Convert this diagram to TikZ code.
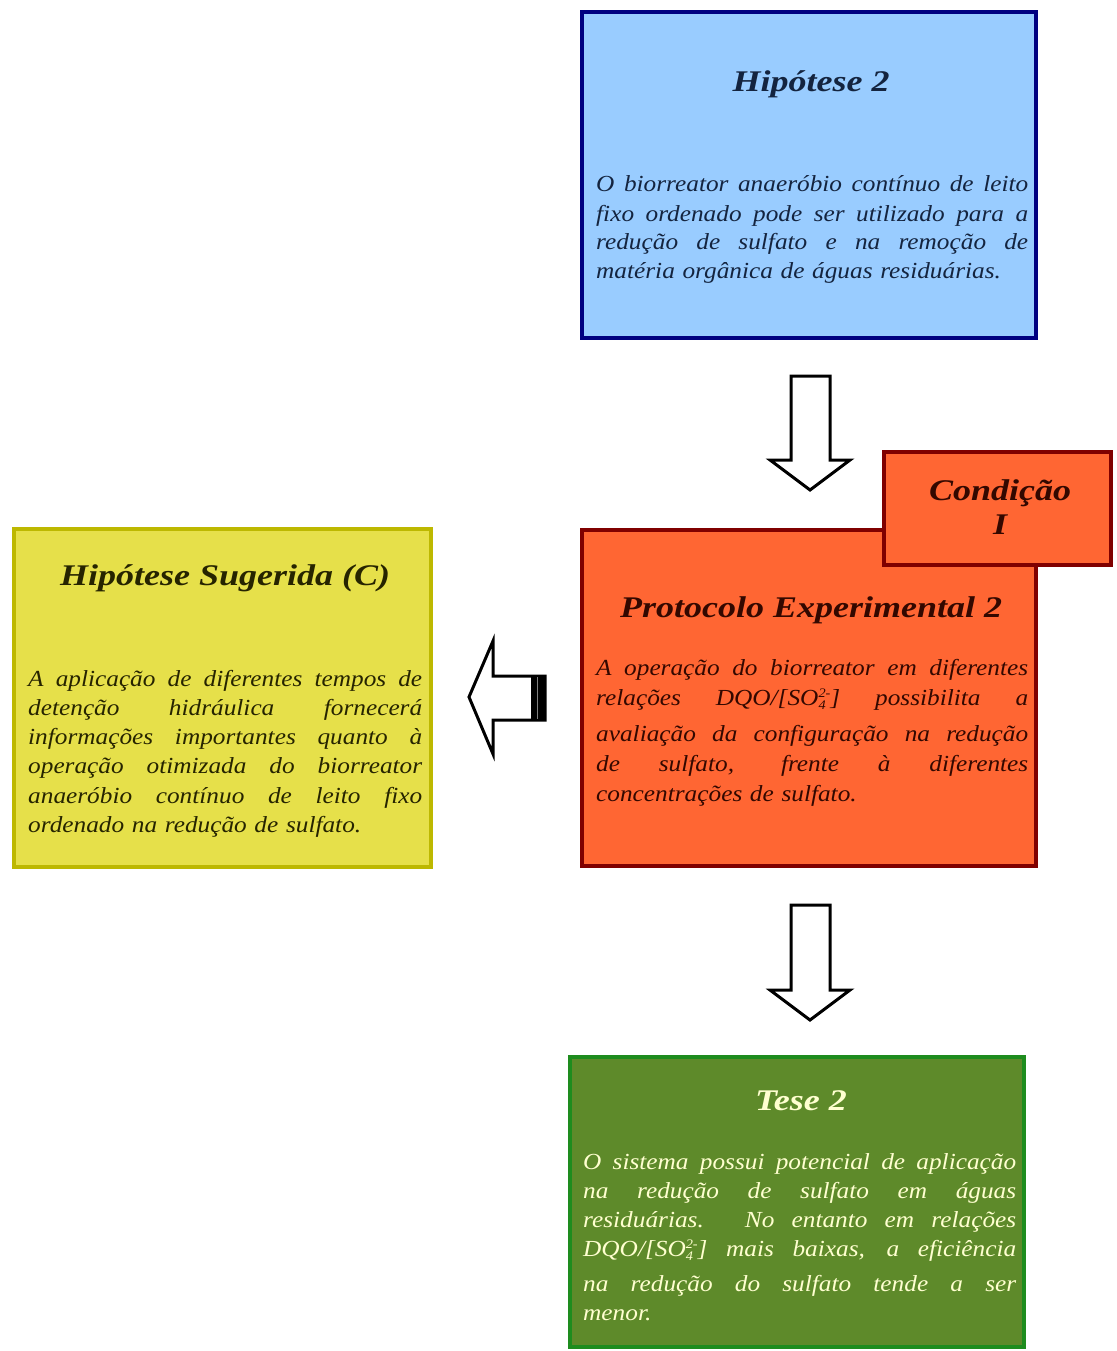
\documentclass[tikz,border=0pt]{standalone}
\usepackage{fontspec}
\setmainfont{Liberation Serif}
\newfontfamily\bodyfont[FakeStretch=1.1]{Liberation Serif}
\newfontfamily\headfont[FakeStretch=1.2]{Liberation Serif}
\usetikzlibrary{calc}

\definecolor{hipfill}{HTML}{99CCFF}
\definecolor{hipline}{HTML}{000080}
\definecolor{hiptext}{HTML}{14243F}
\definecolor{protfill}{HTML}{FF6633}
\definecolor{protline}{HTML}{800000}
\definecolor{prottext}{HTML}{330800}
\definecolor{sugfill}{HTML}{E6E04A}
\definecolor{sugline}{HTML}{BDB800}
\definecolor{sugtext}{HTML}{262400}
\definecolor{tesefill}{HTML}{5E8A2A}
\definecolor{teseline}{HTML}{1E8C1E}
\definecolor{tesetext}{HTML}{FFFFD0}

% one justified line of body text (spaces stretch to the full width)
\newcommand{\jl}[1]{{\spaceskip=0pt\xspaceskip=0pt\makebox[\linewidth][s]{#1}}}
% COD/sulfate ratio with stacked charge and index
\newcommand{\sulfate}{DQO/[SO\raisebox{-4pt}{\fontsize{13}{12}\selectfont\shortstack[l]{2-\\4}}]}

\tikzset{
  box/.style={draw, line width=4pt, rectangle, inner sep=0pt},
  title/.style={font=\headfont\bfseries\itshape\fontsize{30}{34}\selectfont, anchor=base, inner sep=0pt},
  body/.style={font=\bodyfont\itshape\fontsize{23}{29}\selectfont, text width=432pt, align=left, anchor=base west, inner sep=0pt},
  blockarrow/.style={draw=black, fill=white, line width=3pt, line join=miter},
}

\begin{document}
\begin{tikzpicture}[x=1pt, y=-1pt]
\useasboundingbox (0,0) rectangle (1116,1351);

% boxes
\node[box, draw=hipline, fill=hipfill, minimum width=454pt, minimum height=326pt] (hip) at (809,175) {};
\node[box, draw=protline, fill=protfill, minimum width=454pt, minimum height=336pt] (prot) at (809,698) {};
\node[box, draw=protline, fill=protfill, minimum width=227pt, minimum height=113pt] (cond) at (997.5,508.5) {};
\node[box, draw=sugline, fill=sugfill, minimum width=417pt, minimum height=338pt] (sug) at (222.5,698) {};
\node[box, draw=teseline, fill=tesefill, minimum width=454pt, minimum height=290pt] (tese) at (797,1202) {};

% block arrows between the boxes
\draw[blockarrow] ($(hip.south)+(-18,36)$) -- ($(hip.south)+(21,36)$) -- ($(hip.south)+(21,120)$)
  -- ($(hip.south)+(41,120)$) -- ($(hip.south)+(1,150)$) -- ($(hip.south)+(-39,120)$)
  -- ($(hip.south)+(-18,120)$) -- cycle;
\draw[blockarrow] ($(prot.south)+(-18,37)$) -- ($(prot.south)+(21,37)$) -- ($(prot.south)+(21,122)$)
  -- ($(prot.south)+(41,122)$) -- ($(prot.south)+(1,152)$) -- ($(prot.south)+(-39,122)$)
  -- ($(prot.south)+(-18,122)$) -- cycle;
\draw[blockarrow] ($(prot.west)+(-35,-22)$) -- ($(prot.west)+(-87,-22)$) -- ($(prot.west)+(-87,-57)$)
  -- ($(prot.west)+(-111,-1)$) -- ($(prot.west)+(-87,56)$) -- ($(prot.west)+(-87,22)$)
  -- ($(prot.west)+(-35,22)$) -- cycle;
\fill[black] ($(prot.west)+(-49,-22)$) rectangle ($(prot.west)+(-35,22)$);
\draw[gray, line width=1pt] ($(prot.west)+(-43,-21)$) -- ($(prot.west)+(-43,21)$);

% titles
\node[title, text=hiptext] (hipT) at (811,92) {Hipótese 2};
\node[title, text=prottext] (protT) at (811,617) {Protocolo Experimental 2};
\node[title, text=prottext, align=center] (condT) at (1000,534) {Condição\\I};
\node[title, text=sugtext] (sugT) at (225,585) {Hipótese Sugerida (C)};
\node[title, text=tesetext] (teseT) at (801,1110) {Tese 2};

% body texts
\node[body, text=hiptext] (hipB) at (596,192) {%
\jl{O biorreator anaeróbio contínuo de leito}\\
\jl{fixo ordenado pode ser utilizado para a}\\
\jl{redução de sulfato e na remoção de}\\
matéria orgânica de águas residuárias.};

\node[body, text=prottext, font=\bodyfont\itshape\fontsize{23}{30}\selectfont] (protB) at (596,675) {%
\jl{A operação do biorreator em diferentes}\\
\jl{relações \sulfate{} possibilita a}\\[6pt]
\jl{avaliação da configuração na redução}\\
\jl{de sulfato, frente à diferentes}\\
concentrações de sulfato.};

\node[body, text=sugtext, text width=394pt, font=\bodyfont\itshape\fontsize{23}{29.3}\selectfont] (sugB) at (28,686) {%
\jl{A aplicação de diferentes tempos de}\\
\jl{detenção hidráulica fornecerá}\\
\jl{informações importantes quanto à}\\
\jl{operação otimizada do biorreator}\\
\jl{anaeróbio contínuo de leito fixo}\\
ordenado na redução de sulfato.};

\node[body, text=tesetext, text width=433pt] (teseB) at (583,1169) {%
\jl{O sistema possui potencial de aplicação}\\
\jl{na redução de sulfato em águas}\\
\jl{residuárias. No entanto em relações}\\
\jl{\sulfate{} mais baixas, a eficiência}\\[6pt]
\jl{na redução do sulfato tende a ser}\\
menor.};
\end{tikzpicture}
\end{document}
